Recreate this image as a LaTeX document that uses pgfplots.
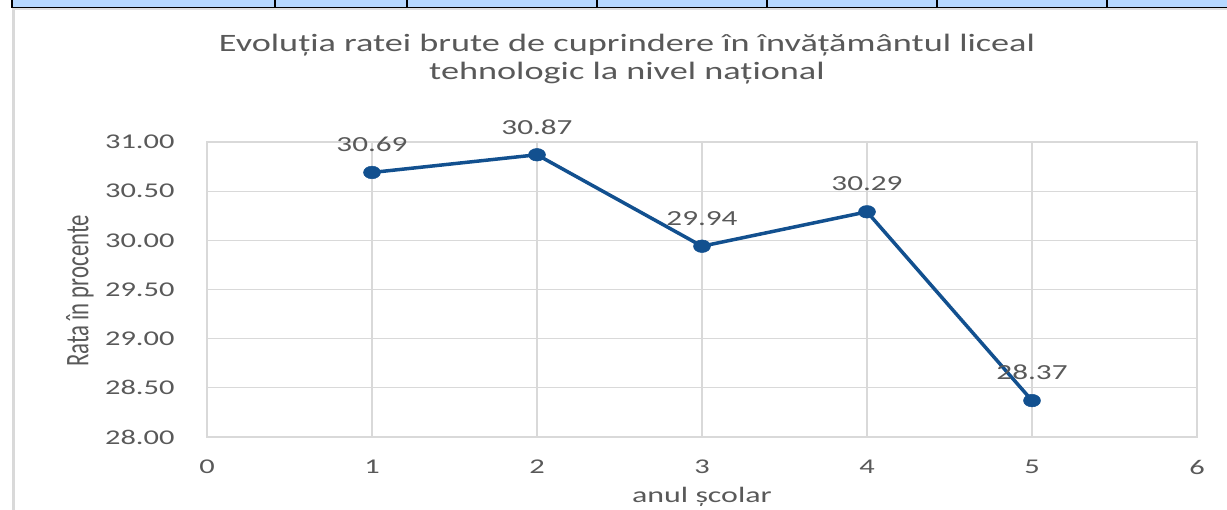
\documentclass[border=0pt]{standalone}
\usepackage{pgfplots}
\pgfplotsset{compat=1.18}
\usepackage{fontspec}
\setmainfont{Carlito}[FakeStretch=1.45]
\newfontfamily\ylabfont{Carlito}[FakeStretch=0.69]
\definecolor{txtgray}{HTML}{595959}
\definecolor{gridgray}{HTML}{D9D9D9}
\definecolor{serblue}{HTML}{12508F}
\definecolor{stripblue}{RGB}{182,216,255}
\begin{document}
\begin{tikzpicture}[x=1bp,y=1bp]
\useasboundingbox (0,0) rectangle (1227,510);
% top strip (table cells) and frame
\fill[stripblue] (12,502.5) rectangle (1227,510);
\draw[black, line width=1.5bp] (11,502.5) -- (1227,502.5);
\foreach \xx in {12,275,407,597,767,937,1107}{\draw[black, line width=2bp] (\xx,502) -- (\xx,510);}
\draw[gray!25, line width=2bp] (12,500.5) -- (1227,500.5);
\draw[gridgray, line width=3bp] (13.5,0) -- (13.5,500);
\begin{axis}[
  at={(207bp,73bp)}, anchor=south west,
  scale only axis, width=990bp, height=295bp,
  xmin=0, xmax=6, ymin=28, ymax=31,
  xtick={0,1,2,3,4,5,6},
  ytick={28,28.5,29,29.5,30,30.5,31},
  /pgf/number format/assume math mode=true,
  yticklabel={\pgfmathprintnumber[fixed,fixed zerofill,precision=2]{\tick}},
  xticklabel={\pgfmathprintnumber[fixed,precision=0]{\tick}},
  major tick length=0pt,
  grid=major,
  major grid style={gridgray, line width=1.3bp},
  axis line style={gridgray, line width=1.3bp},
  tick label style={font=\fontsize{21bp}{24bp}\selectfont, text=txtgray},
  xticklabel style={anchor=center, yshift=-30bp},
  yticklabel style={anchor=east, xshift=-29bp},
  clip=false,
  nodes near coords={\pgfmathprintnumber[fixed,fixed zerofill,precision=2,assume math mode=true]{\pgfplotspointmeta}},
  every node near coord/.append style={anchor=center, yshift=28bp, font=\fontsize{21.5bp}{24bp}\selectfont, text=txtgray, inner sep=0pt},
]
\addplot[serblue, line width=3.5bp, mark=*, mark size=6.3bp, mark options={xscale=1.35, fill=serblue, draw=serblue, line width=0.5bp}]
coordinates {(1,30.69) (2,30.87) (3,29.94) (4,30.29) (5,28.37)};
\end{axis}
\node[text=txtgray, font=\fontsize{25bp}{28bp}\selectfont, align=center] at (627,451)
  {Evoluția ratei brute de cuprindere în învățământul liceal\\tehnologic la nivel național};
\node[text=txtgray, font=\fontsize{22bp}{26bp}\selectfont] at (702,13) {anul școlar};
\node[text=txtgray, font=\ylabfont\fontsize{33bp}{36bp}\selectfont, rotate=90] at (80,219) {Rata în procente};
\end{tikzpicture}
\end{document}
